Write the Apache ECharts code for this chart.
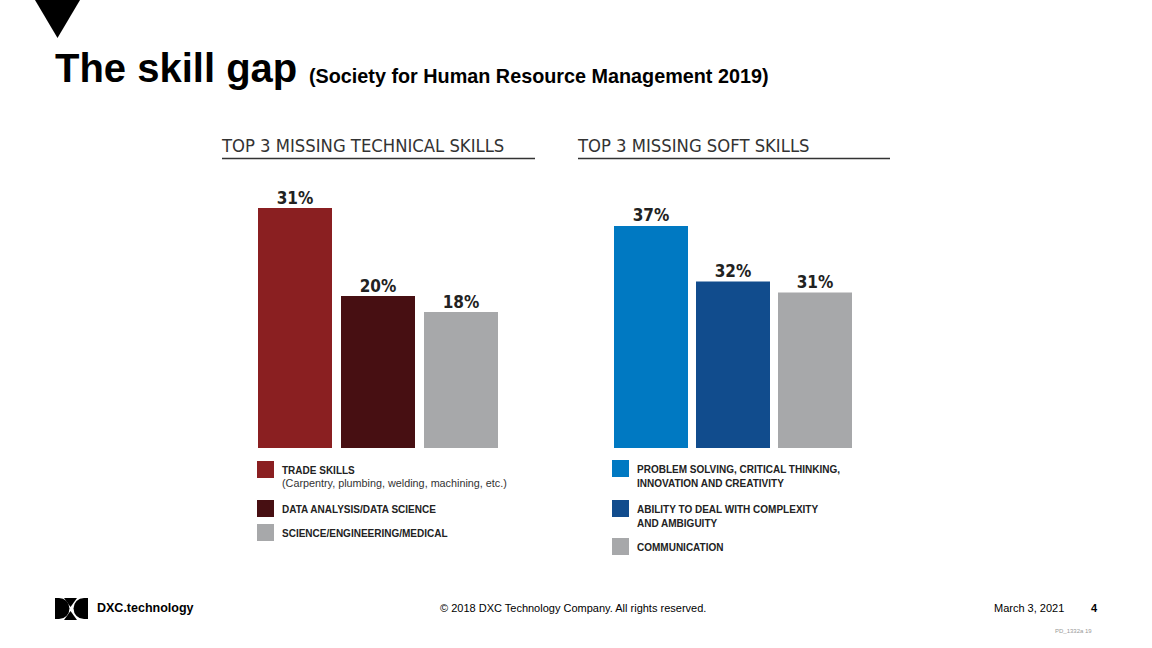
<!DOCTYPE html>
<html>
<head>
<meta charset="utf-8">
<script src="https://cdn.jsdelivr.net/npm/echarts@6/dist/echarts.min.js"></script>
<style>
html,body{margin:0;padding:0;background:#fff;}
#c{width:1152px;height:648px;}
</style>
</head>
<body>
<div id="c"></div>
<script>
// ---- data ----
const techTitle = "TOP 3 MISSING TECHNICAL SKILLS";
const softTitle = "TOP 3 MISSING SOFT SKILLS";
const techCategories = ["TRADE SKILLS", "DATA ANALYSIS/DATA SCIENCE", "SCIENCE/ENGINEERING/MEDICAL"];
const techValues = [31, 20, 18];
const techNotes = ["(Carpentry, plumbing, welding, machining, etc.)", "", ""];
const softCategories = ["PROBLEM SOLVING, CRITICAL THINKING,\nINNOVATION AND CREATIVITY", "ABILITY TO DEAL WITH COMPLEXITY\nAND AMBIGUITY", "COMMUNICATION"];
const softValues = [37, 32, 31];
const techColors = ["#8A1F21", "#470F12", "#A7A8AA"];
const softColors = ["#0079C2", "#114C8D", "#A7A8AA"];

const narrow = "'Liberation Sans Narrow','DejaVu Sans Condensed','Arial Narrow',sans-serif";
const arial = "'Liberation Sans',Arial,Helvetica,sans-serif";

const chart = echarts.init(document.getElementById('c'), null, {renderer: 'svg'});

function barSeries(idx, values, colors) {
  return {
    type: 'bar',
    xAxisIndex: idx, yAxisIndex: idx,
    barWidth: 74,
    data: values.map((v, i) => ({value: v, itemStyle: {color: colors[i]}})),
    label: {
      show: true, position: 'top', distance: 2,
      formatter: '{c}%',
      fontFamily: narrow, fontWeight: 'bold', fontSize: 17, color: '#222'
    },
    silent: true,
    animation: false
  };
}

function txt(x, y, text, font, fill, extra) {
  const st = Object.assign({text: text, font: font, fill: fill, align: 'left', verticalAlign: 'top', textAlign: 'left', textVerticalAlign: 'top'}, extra || {});
  return {type: 'text', x: x, y: y, style: st, silent: true};
}

const graphics = [];
// top-left triangle
graphics.push({type: 'polygon', shape: {points: [[35, 0], [80, 0], [57.5, 38]]}, style: {fill: '#000'}});
// title
graphics.push(txt(55, 48, 'The skill gap', 'bold 40px ' + arial, '#000'));
graphics.push(txt(309, 66, '(Society for Human Resource Management 2019)', 'bold 19.8px ' + arial, '#000'));

// section headers
function header(x, y, text, lineW) {
  graphics.push(txt(x, y, text, '18.3px ' + narrow, '#333'));
  graphics.push({type: 'line', shape: {x1: x, y1: 158.5, x2: x + lineW, y2: 158.5}, style: {stroke: '#333', lineWidth: 1.5}});
}
header(222, 136, techTitle, 313);
header(578, 136, softTitle, 312);

// legends
function legendBlock(x, tops, cats, colors, notes) {
  cats.forEach((c, i) => {
    graphics.push({type: 'rect', shape: {x: x, y: tops[i], width: 17, height: 17}, style: {fill: colors[i]}});
    graphics.push(txt(x + 25, tops[i] + 2, c, 'bold 10px ' + arial, '#222', {lineHeight: 14.5}));
    if (notes && notes[i]) {
      graphics.push(txt(x + 25, tops[i] + 16.5, notes[i], '10.8px ' + arial, '#333'));
    }
  });
}
legendBlock(257, [461, 500, 524], techCategories, techColors, techNotes);
legendBlock(612, [460, 500, 538], softCategories, softColors, null);

// footer logo
graphics.push({type: 'rect', shape: {x: 55, y: 598, width: 4, height: 21}, style: {fill: '#000'}});
graphics.push({type: 'sector', shape: {cx: 59, cy: 608.5, r: 10.5, r0: 0, startAngle: -Math.PI / 2, endAngle: Math.PI / 2, clockwise: true}, style: {fill: '#000'}});
graphics.push({type: 'polygon', shape: {points: [[64, 598], [77, 598], [70.5, 607]]}, style: {fill: '#000'}});
graphics.push({type: 'polygon', shape: {points: [[64, 620], [77, 620], [70.5, 611]]}, style: {fill: '#000'}});
graphics.push({type: 'rect', shape: {x: 84, y: 598, width: 4, height: 21}, style: {fill: '#000'}});
graphics.push({type: 'sector', shape: {cx: 84, cy: 608.5, r: 10.5, r0: 0, startAngle: Math.PI / 2, endAngle: Math.PI * 1.5, clockwise: true}, style: {fill: '#000'}});
graphics.push(txt(97, 601, 'DXC.technology', 'bold 12.5px ' + arial, '#000'));
graphics.push(txt(440, 602, '© 2018 DXC Technology Company. All rights reserved.', '11px ' + arial, '#000'));
graphics.push(txt(994, 602, 'March 3, 2021', '11px ' + arial, '#000'));
graphics.push(txt(1091, 602, '4', 'bold 11px ' + arial, '#000'));
graphics.push(txt(1055, 628, 'PD_1332a 19', '6px ' + arial, '#999'));

const hiddenCat = (idx, cats) => ({
  type: 'category', gridIndex: idx, data: cats,
  axisLine: {show: false}, axisTick: {show: false}, axisLabel: {show: false}
});
const hiddenVal = (idx, min, max) => ({
  type: 'value', gridIndex: idx, min: min, max: max,
  axisLine: {show: false}, axisTick: {show: false}, axisLabel: {show: false}, splitLine: {show: false}
});

chart.setOption({
  animation: false,
  grid: [
    {left: 253.5, top: 176, width: 249, height: 272},
    {left: 610, top: 176, width: 246, height: 272}
  ],
  xAxis: [hiddenCat(0, techCategories), hiddenCat(1, softCategories)],
  yAxis: [hiddenVal(0, 1, 35), hiddenVal(1, 17, 41.5)],
  series: [barSeries(0, techValues, techColors), barSeries(1, softValues, softColors)],
  graphic: graphics
});
</script>
</body>
</html>
